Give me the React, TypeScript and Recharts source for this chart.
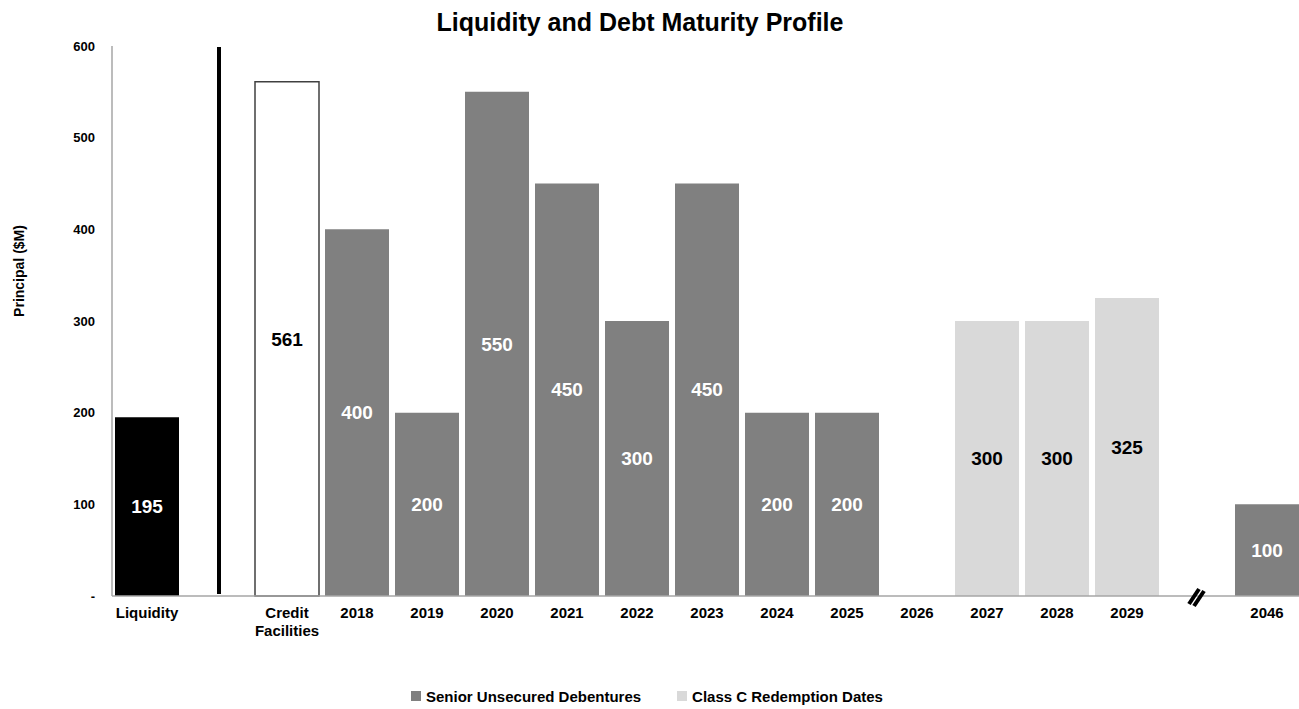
import React from "react";
import {
  Bar,
  BarChart,
  LabelList,
  Legend,
  ReferenceDot,
  ReferenceLine,
  XAxis,
  YAxis,
} from "recharts";

const FONT = '"Liberation Sans Narrow", "Arial Narrow", "Liberation Sans", Arial, sans-serif';

// categories incl. two spacer slots (divider line, axis break)
const categories = [
  "Liquidity",
  "gap1",
  "Credit Facilities",
  "2018",
  "2019",
  "2020",
  "2021",
  "2022",
  "2023",
  "2024",
  "2025",
  "2026",
  "2027",
  "2028",
  "2029",
  "gap2",
  "2046",
];

const liquidity = [195, null, null, null, null, null, null, null, null, null, null, null, null, null, null, null, null];
const creditFacilities = [null, null, 561, null, null, null, null, null, null, null, null, null, null, null, null, null, null];
const seniorUnsecured = [null, null, null, 400, 200, 550, 450, 300, 450, 200, 200, null, null, null, null, null, 100];
const classC = [null, null, null, null, null, null, null, null, null, null, null, null, 300, 300, 325, null, null];

const yTicks = [0, 100, 200, 300, 400, 500, 600];

const data = categories.map((name, i) => ({
  name,
  liquidity: liquidity[i],
  credit: creditFacilities[i],
  senior: seniorUnsecured[i],
  classC: classC[i],
}));

const legendItems = [
  { label: "Senior Unsecured Debentures", color: "#808080" },
  { label: "Class C Redemption Dates", color: "#d9d9d9" },
];

function XTick(props: any) {
  const { x, y, payload } = props;
  const v: string = payload.value;
  if (v.startsWith("gap")) return null;
  const lines = v === "Credit Facilities" ? ["Credit", "Facilities"] : [v];
  return (
    <text
      x={x}
      y={y}
      textAnchor="middle"
      fontFamily={FONT}
      fontWeight="bold"
      fontSize={15}
      fill="#000"
    >
      {lines.map((l, i) => (
        <tspan key={l} x={x} dy={i === 0 ? 14 : 18}>
          {l}
        </tspan>
      ))}
    </text>
  );
}

function YLabel(props: any) {
  const { x, y, height } = props.viewBox;
  return (
    <text
      transform={`translate(${x + 19},${y + height / 2 - 50}) rotate(-90)`}
      textAnchor="middle"
      dominantBaseline="central"
      fontFamily={FONT}
      fontWeight="bold"
      fontSize={14}
      fill="#000"
    >
      Principal ($M)
    </text>
  );
}

// thick divider between liquidity and maturities
function Divider(props: any) {
  const { x1, y1, x2, y2 } = props;
  return <line x1={x1 + 2} y1={y1 - 2} x2={x2 + 2} y2={y2 + 1} stroke="#000" strokeWidth={4} />;
}

// the "//" axis break marker
function BreakMark(props: any) {
  const { cx, cy } = props;
  return (
    <g>
      <line x1={cx - 8} y1={cy + 8} x2={cx + 2} y2={cy - 7} stroke="#000" strokeWidth={4} />
      <line x1={cx - 3} y1={cy + 10} x2={cx + 7} y2={cy - 5} stroke="#000" strokeWidth={4} />
    </g>
  );
}

function LegendContent() {
  return (
    <div
      style={{
        height: 40,
        display: "flex",
        justifyContent: "center",
        alignItems: "center",
        paddingTop: 14,
        paddingRight: 8,
        boxSizing: "border-box",
        gap: 36,
        fontFamily: FONT,
        fontWeight: "bold",
        fontSize: 15,
        color: "#000",
      }}
    >
      {legendItems.map((it) => (
        <span key={it.label} style={{ display: "flex", alignItems: "center", gap: 5 }}>
          <span style={{ width: 10, height: 10, background: it.color, display: "inline-block" }} />
          {it.label}
        </span>
      ))}
    </div>
  );
}

const labelStyle = { fontFamily: FONT, fontWeight: "bold", fontSize: 19 } as const;

export default function App() {
  return (
    <div style={{ position: "absolute", left: 0, top: 0, width: 1299, height: 709, background: "#fff" }}>
      <div
        style={{
          position: "absolute",
          left: 0,
          top: 8,
          width: 1280,
          textAlign: "center",
          fontFamily: FONT,
          fontWeight: "bold",
          fontSize: 25,
          color: "#000",
        }}
      >
        Liquidity and Debt Maturity Profile
      </div>
      <BarChart
        width={1299}
        height={709}
        data={data}
        margin={{ top: 46, right: -3, bottom: 0, left: 0 }}
        barCategoryGap={3}
      >
        <XAxis
          dataKey="name"
          interval={0}
          tick={<XTick />}
          tickLine={false}
          axisLine={{ stroke: "#a6a6a6", strokeWidth: 1.5 }}
          height={73}
        />
        <YAxis
          domain={[0, 600]}
          ticks={yTicks}
          tickFormatter={(v: number) => (v === 0 ? "-" : String(v))}
          tickLine={false}
          tickSize={0}
          tickMargin={17}
          axisLine={{ stroke: "#a6a6a6", strokeWidth: 1.5 }}
          tick={{ fontFamily: FONT, fontWeight: "bold", fontSize: 13, fill: "#000" }}
          width={112}
          label={<YLabel />}
        />
        <ReferenceLine x="gap1" shape={<Divider />} />
        <Bar dataKey="liquidity" stackId="a" fill="#000" isAnimationActive={false}>
          <LabelList dataKey="liquidity" position="center" fill="#fff" style={labelStyle} />
        </Bar>
        <Bar
          dataKey="credit"
          stackId="a"
          fill="#fff"
          stroke="#404040"
          strokeWidth={1.5}
          isAnimationActive={false}
        >
          <LabelList dataKey="credit" position="center" fill="#000" style={labelStyle} />
        </Bar>
        <Bar dataKey="senior" stackId="a" fill="#808080" isAnimationActive={false}>
          <LabelList dataKey="senior" position="center" fill="#fff" style={labelStyle} />
        </Bar>
        <Bar dataKey="classC" stackId="a" fill="#d9d9d9" isAnimationActive={false}>
          <LabelList dataKey="classC" position="center" fill="#000" style={labelStyle} />
        </Bar>
        <ReferenceDot x="gap2" y={0} r={0} shape={<BreakMark />} ifOverflow="visible" />
        <Legend verticalAlign="bottom" content={<LegendContent />} />
      </BarChart>
    </div>
  );
}
